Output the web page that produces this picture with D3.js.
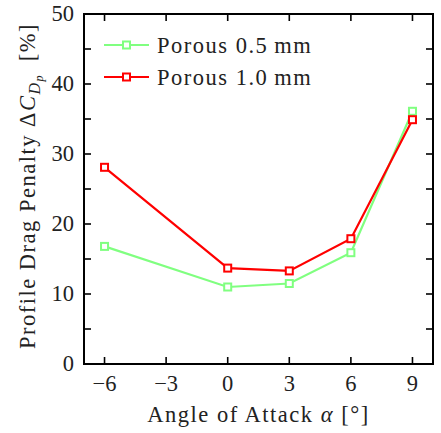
<!DOCTYPE html>
<html>
<head>
<meta charset="utf-8">
<script src="https://d3js.org/d3.v7.min.js"></script>
<style>
  body { margin: 0; background: #fff; }
  svg { display: block; font-family: "Liberation Serif", "DejaVu Serif", serif; }
</style>
</head>
<body>
<svg id="chart"></svg>
<script>
// angles of attack (deg)
const angles = [-6, 0, 3, 6, 9];
const porous05 = [16.8, 11.0, 11.5, 15.9, 36.1];
const porous10 = [28.1, 13.7, 13.3, 17.9, 34.9];
const seriesNames = ["Porous 0.5\u2009mm", "Porous 1.0\u2009mm"];
const seriesColors = ["#80ff80", "#ff0000"];
const xTicks = [-6, -3, 0, 3, 6, 9];
const yTicks = [0, 10, 20, 30, 40, 50];
const yMinorTicks = [5, 15, 25, 35, 45];

const width = 441, height = 433;
const margin = { top: 14, right: 8, bottom: 69, left: 84 };
const innerWidth = width - margin.left - margin.right;
const innerHeight = height - margin.top - margin.bottom;
const fs = "22.5px";
const spacing = "1.5px";

const svg = d3.select("#chart")
    .attr("width", width)
    .attr("height", height);

const g = svg.append("g")
    .attr("transform", `translate(${margin.left},${margin.top})`);

const xScale = d3.scaleLinear().domain([-7, 10]).range([0, innerWidth]);
const yScale = d3.scaleLinear().domain([0, 50]).range([innerHeight, 0]);

// ticks pointing inward on all four sides
const tickLen = 7;
const tickStyle = sel => sel.attr("stroke", "#000").attr("stroke-width", 1.6);

xTicks.forEach(v => {
    const x = xScale(v);
    g.append("line").attr("x1", x).attr("x2", x)
        .attr("y1", innerHeight).attr("y2", innerHeight - tickLen).call(tickStyle);
    g.append("line").attr("x1", x).attr("x2", x)
        .attr("y1", 0).attr("y2", tickLen).call(tickStyle);
    g.append("text")
        .attr("x", x)
        .attr("y", innerHeight + 27)
        .attr("text-anchor", "middle")
        .attr("font-size", fs)
        .attr("fill", "#222")
        .text(v < 0 ? "\u2212" + Math.abs(v) : v);
});

yTicks.concat(yMinorTicks).forEach(v => {
    const y = yScale(v);
    g.append("line").attr("x1", 0).attr("x2", tickLen)
        .attr("y1", y).attr("y2", y).call(tickStyle);
    g.append("line").attr("x1", innerWidth).attr("x2", innerWidth - tickLen)
        .attr("y1", y).attr("y2", y).call(tickStyle);
});

yTicks.forEach(v => {
    g.append("text")
        .attr("x", -10)
        .attr("y", Math.max(yScale(v) + 7, 4))
        .attr("text-anchor", "end")
        .attr("font-size", fs)
        .attr("fill", "#222")
        .text(v);
});

// frame
g.append("rect")
    .attr("width", innerWidth)
    .attr("height", innerHeight)
    .attr("fill", "none")
    .attr("stroke", "#000")
    .attr("stroke-width", 2);

// series
const line = d3.line()
    .x(d => xScale(d.x))
    .y(d => yScale(d.y));

[porous05, porous10].forEach((vals, i) => {
    const pts = angles.map((a, j) => ({ x: a, y: vals[j] }));
    g.append("path")
        .attr("d", line(pts))
        .attr("fill", "none")
        .attr("stroke", seriesColors[i])
        .attr("stroke-width", 2.2);
    g.selectAll(".m" + i)
        .data(pts)
        .enter()
        .append("rect")
        .attr("x", d => xScale(d.x) - 3.5)
        .attr("y", d => yScale(d.y) - 3.5)
        .attr("width", 7)
        .attr("height", 7)
        .attr("fill", "#fff")
        .attr("stroke", seriesColors[i])
        .attr("stroke-width", 2);
});

// legend
seriesNames.forEach((name, i) => {
    const ly = 31 + i * 32;
    const lg = g.append("g").attr("transform", `translate(20,${ly})`);
    lg.append("line")
        .attr("x1", 0).attr("x2", 45)
        .attr("y1", 0).attr("y2", 0)
        .attr("stroke", seriesColors[i])
        .attr("stroke-width", 2.2);
    lg.append("rect")
        .attr("x", 19).attr("y", -3.5)
        .attr("width", 7).attr("height", 7)
        .attr("fill", "#fff")
        .attr("stroke", seriesColors[i])
        .attr("stroke-width", 2);
    lg.append("text")
        .attr("x", 53)
        .attr("y", 7.5)
        .attr("font-size", fs)
        .attr("letter-spacing", spacing)
        .attr("fill", "#222")
        .text(name);
});

// axis titles
svg.append("text")
    .attr("x", margin.left + innerWidth / 2)
    .attr("y", 422)
    .attr("text-anchor", "middle")
    .attr("font-size", fs)
    .attr("letter-spacing", spacing)
    .attr("fill", "#222")
    .html('Angle of Attack <tspan font-style="italic">\u03b1</tspan> [\u00b0]');

const yLabel = svg.append("text")
    .attr("transform", `translate(35,186) rotate(-90)`)
    .attr("text-anchor", "middle")
    .attr("font-size", fs)
    .attr("letter-spacing", spacing)
    .attr("fill", "#222");
yLabel.append("tspan").text("Profile Drag Penalty \u0394");
yLabel.append("tspan").attr("font-style", "italic").text("C");
yLabel.append("tspan").attr("font-style", "italic").attr("font-size", "16px").attr("dy", 5).text("D");
yLabel.append("tspan").attr("font-style", "italic").attr("font-size", "12px").attr("dy", 3).text("p");
yLabel.append("tspan").attr("dy", -8).text("\u2002[%]");
</script>
</body>
</html>
